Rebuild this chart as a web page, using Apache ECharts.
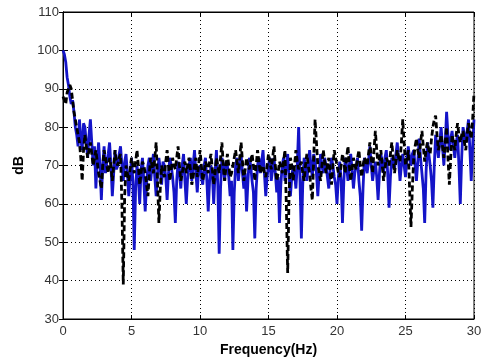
<!DOCTYPE html>
<html>
<head>
<meta charset="utf-8">
<script src="https://cdn.jsdelivr.net/npm/echarts@6/dist/echarts.min.js"></script>
<style>
  html, body { margin: 0; padding: 0; background: #fff; }
  #chart { width: 489px; height: 362px; }
</style>
</head>
<body>
<div id="chart"></div>
<script>
// frequency grid (Hz), one row per hertz
const freq = [
  0.0, 0.1, 0.2, 0.3, 0.4, 0.5, 0.6, 0.7, 0.8, 0.9,
  1.0, 1.1, 1.2, 1.3, 1.4, 1.5, 1.6, 1.7, 1.8, 1.9,
  2.0, 2.1, 2.2, 2.3, 2.4, 2.5, 2.6, 2.7, 2.8, 2.9,
  3.0, 3.1, 3.2, 3.3, 3.4, 3.5, 3.6, 3.7, 3.8, 3.9,
  4.0, 4.1, 4.2, 4.3, 4.4, 4.5, 4.6, 4.7, 4.8, 4.9,
  5.0, 5.1, 5.2, 5.3, 5.4, 5.5, 5.6, 5.7, 5.8, 5.9,
  6.0, 6.1, 6.2, 6.3, 6.4, 6.5, 6.6, 6.7, 6.8, 6.9,
  7.0, 7.1, 7.2, 7.3, 7.4, 7.5, 7.6, 7.7, 7.8, 7.9,
  8.0, 8.1, 8.2, 8.3, 8.4, 8.5, 8.6, 8.7, 8.8, 8.9,
  9.0, 9.1, 9.2, 9.3, 9.4, 9.5, 9.6, 9.7, 9.8, 9.9,
  10.0, 10.1, 10.2, 10.3, 10.4, 10.5, 10.6, 10.7, 10.8, 10.9,
  11.0, 11.1, 11.2, 11.3, 11.4, 11.5, 11.6, 11.7, 11.8, 11.9,
  12.0, 12.1, 12.2, 12.3, 12.4, 12.5, 12.6, 12.7, 12.8, 12.9,
  13.0, 13.1, 13.2, 13.3, 13.4, 13.5, 13.6, 13.7, 13.8, 13.9,
  14.0, 14.1, 14.2, 14.3, 14.4, 14.5, 14.6, 14.7, 14.8, 14.9,
  15.0, 15.1, 15.2, 15.3, 15.4, 15.5, 15.6, 15.7, 15.8, 15.9,
  16.0, 16.1, 16.2, 16.3, 16.4, 16.5, 16.6, 16.7, 16.8, 16.9,
  17.0, 17.1, 17.2, 17.3, 17.4, 17.5, 17.6, 17.7, 17.8, 17.9,
  18.0, 18.1, 18.2, 18.3, 18.4, 18.5, 18.6, 18.7, 18.8, 18.9,
  19.0, 19.1, 19.2, 19.3, 19.4, 19.5, 19.6, 19.7, 19.8, 19.9,
  20.0, 20.1, 20.2, 20.3, 20.4, 20.5, 20.6, 20.7, 20.8, 20.9,
  21.0, 21.1, 21.2, 21.3, 21.4, 21.5, 21.6, 21.7, 21.8, 21.9,
  22.0, 22.1, 22.2, 22.3, 22.4, 22.5, 22.6, 22.7, 22.8, 22.9,
  23.0, 23.1, 23.2, 23.3, 23.4, 23.5, 23.6, 23.7, 23.8, 23.9,
  24.0, 24.1, 24.2, 24.3, 24.4, 24.5, 24.6, 24.7, 24.8, 24.9,
  25.0, 25.1, 25.2, 25.3, 25.4, 25.5, 25.6, 25.7, 25.8, 25.9,
  26.0, 26.1, 26.2, 26.3, 26.4, 26.5, 26.6, 26.7, 26.8, 26.9,
  27.0, 27.1, 27.2, 27.3, 27.4, 27.5, 27.6, 27.7, 27.8, 27.9,
  28.0, 28.1, 28.2, 28.3, 28.4, 28.5, 28.6, 28.7, 28.8, 28.9,
  29.0, 29.1, 29.2, 29.3, 29.4, 29.5, 29.6, 29.7, 29.8, 29.9,
  30.0
];

// blue solid trace (dB)
const blueDb = [
  100, 99, 97, 93, 91, 88, 86, 87, 84, 80,
  78, 75, 82, 77, 74, 81, 80, 76, 72, 78,
  82, 76, 70, 75, 64, 72, 76, 70, 61, 70,
  75, 68, 71, 73, 76, 70, 62, 68, 74, 69,
  70, 73, 75, 70, 66, 71, 73, 68, 62, 67,
  72, 66, 48, 64, 70, 67, 60, 69, 72, 66,
  58, 65, 70, 72, 66, 70, 73, 67, 62, 68,
  72, 69, 65, 71, 70, 67, 61, 68, 72, 70,
  67, 63, 55, 66, 71, 68, 64, 70, 73, 66,
  60, 67, 70, 72, 66, 70, 74, 68, 63, 69,
  70, 67, 65, 70, 72, 66, 58, 66, 70, 68,
  60, 68, 74, 65, 47, 64, 72, 70, 66, 71,
  70, 67, 62, 66, 48, 63, 70, 72, 66, 70,
  73, 68, 64, 68, 58, 66, 72, 70, 66, 63,
  51, 64, 70, 72, 68, 71, 74, 68, 62, 67,
  70, 72, 66, 69, 72, 68, 63, 67, 55, 65,
  70, 72, 66, 70, 73, 67, 62, 67, 70, 68,
  64, 70, 80, 66, 51, 65, 72, 70, 66, 70,
  74, 70, 67, 73, 71, 68, 62, 68, 73, 70,
  68, 72, 70, 67, 64, 69, 72, 70, 67, 65,
  60, 67, 71, 66, 55, 66, 72, 70, 66, 70,
  73, 69, 64, 68, 70, 72, 66, 62, 53, 64,
  72, 70, 68, 71, 75, 70, 66, 69, 71, 67,
  61, 68, 73, 71, 68, 72, 74, 68, 59, 67,
  72, 70, 69, 73, 76, 71, 66, 70, 73, 70,
  67, 71, 75, 72, 70, 73, 74, 70, 66, 71,
  77, 72, 68, 64, 55, 68, 76, 73, 70, 66,
  59, 70, 78, 75, 72, 76, 80, 75, 70, 76,
  84, 78, 74, 77, 79, 75, 72, 76, 78, 70,
  60, 72, 80, 78, 76, 79, 82, 74, 66, 75,
  82
];

// black dashed trace (dB)
const blackDb = [
  88, 87, 86, 89, 90, 91, 90, 87, 84, 82,
  80, 78, 76, 72, 66, 74, 78, 75, 72, 74,
  76, 73, 70, 72, 74, 71, 68, 66, 64, 70,
  74, 72, 70, 68, 72, 70, 66, 70, 74, 71,
  70, 72, 73, 60, 39, 62, 70, 68, 66, 69,
  72, 70, 68, 71, 74, 70, 65, 68, 71, 70,
  68, 65, 62, 68, 72, 70, 68, 72, 76, 66,
  55, 64, 70, 68, 67, 71, 74, 70, 66, 69,
  72, 70, 69, 72, 75, 70, 66, 68, 70, 71,
  68, 70, 72, 69, 65, 67, 70, 72, 67, 70,
  74, 70, 66, 68, 71, 70, 68, 71, 73, 69,
  65, 68, 72, 70, 68, 72, 76, 70, 66, 70,
  73, 70, 67, 68, 70, 72, 74, 71, 68, 72,
  76, 71, 66, 69, 72, 70, 69, 71, 73, 70,
  66, 70, 74, 71, 68, 69, 70, 68, 67, 70,
  73, 71, 69, 72, 75, 70, 66, 68, 71, 70,
  68, 71, 74, 60, 42, 62, 72, 70, 66, 70,
  74, 71, 69, 70, 71, 68, 66, 70, 73, 70,
  68, 64, 61, 72, 82, 76, 70, 68, 66, 70,
  74, 71, 68, 70, 72, 68, 65, 70, 74, 72,
  70, 68, 67, 70, 73, 71, 68, 72, 75, 70,
  66, 69, 72, 70, 69, 72, 74, 70, 67, 70,
  72, 71, 70, 73, 76, 72, 68, 74, 79, 74,
  70, 72, 74, 70, 66, 69, 72, 71, 70, 73,
  76, 72, 68, 71, 74, 72, 71, 76, 82, 76,
  70, 72, 74, 64, 54, 64, 72, 75, 77, 74,
  72, 76, 79, 75, 71, 74, 76, 74, 73, 77,
  80, 82, 83, 78, 74, 76, 78, 75, 72, 76,
  80, 72, 65, 72, 78, 76, 74, 78, 81, 78,
  76, 78, 79, 76, 74, 78, 81, 79, 77, 82,
  89
];

const pair = (ys) => ys.map((y, i) => [freq[i], y]);

const chart = echarts.init(document.getElementById('chart'), null, { renderer: 'canvas' });

const FONT = 'Liberation Sans, Arial, sans-serif';
const labelStyle = { color: '#333', fontSize: 13, fontFamily: FONT };
const dotted = { color: '#000', type: [1, 3], width: 1 };

chart.setOption({
  animation: false,
  grid: {
    left: 63, right: 15, top: 12, bottom: 42,
    show: true, borderColor: '#000', borderWidth: 1, backgroundColor: '#fff'
  },
  xAxis: [
    {
      type: 'value', min: 0, max: 30, interval: 5,
      name: 'Frequency(Hz)', nameLocation: 'middle', nameGap: 24,
      nameTextStyle: { color: '#000', fontSize: 14, fontWeight: 'bold', fontFamily: FONT },
      axisLine: { show: true, lineStyle: { color: '#000' } },
      axisTick: { show: true, inside: true, length: 4, lineStyle: { color: '#000' } },
      axisLabel: Object.assign({ margin: 6 }, labelStyle),
      splitLine: { show: true, lineStyle: dotted }
    },
    {
      type: 'value', min: 0, max: 30, interval: 5, position: 'top',
      axisLine: { show: true, lineStyle: { color: '#000' } },
      axisTick: { show: true, inside: true, length: 4, lineStyle: { color: '#000' } },
      axisLabel: { show: false }, splitLine: { show: false }
    }
  ],
  yAxis: [
    {
      type: 'value', min: 30, max: 110, interval: 10,
      name: 'dB', nameLocation: 'middle', nameGap: 36,
      nameTextStyle: { color: '#000', fontSize: 14, fontWeight: 'bold', fontFamily: FONT },
      axisLine: { show: true, lineStyle: { color: '#000' } },
      axisTick: { show: true, inside: true, length: 4, lineStyle: { color: '#000' } },
      axisLabel: Object.assign({ margin: 4 }, labelStyle),
      splitLine: { show: true, lineStyle: dotted }
    },
    {
      type: 'value', min: 30, max: 110, interval: 10, position: 'right',
      axisLine: { show: true, lineStyle: { color: '#000' } },
      axisTick: { show: true, inside: true, length: 4, lineStyle: { color: '#000' } },
      axisLabel: { show: false }, splitLine: { show: false }
    }
  ],
  series: [
    {
      type: 'line', data: pair(blueDb), showSymbol: false,
      lineStyle: { color: '#1414c8', width: 2.8 }, itemStyle: { color: '#1414c8' }
    },
    {
      type: 'line', data: pair(blackDb), showSymbol: false,
      lineStyle: { color: '#000', width: 2.8, type: [6, 3] }, itemStyle: { color: '#000' }
    }
  ]
});
</script>
</body>
</html>
